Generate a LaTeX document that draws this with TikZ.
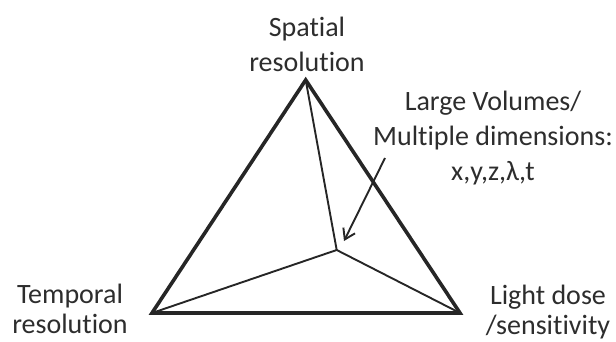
\documentclass[tikz,border=0pt]{standalone}
\usepackage{fontspec}
\setmainfont{Carlito}[Ligatures=NoCommon]
\usetikzlibrary{arrows.meta}
\definecolor{linegray}{RGB}{38,38,38}
\definecolor{textgray}{RGB}{45,45,45}

\begin{document}
\begin{tikzpicture}[x=1pt,y=1pt,
        lbl/.style={align=center,inner sep=0pt,text=textgray,
          font=\fontsize{28}{35}\selectfont},
        lowlbl/.style={lbl,font=\fontsize{28}{30}\selectfont},
        edge/.style={draw=linegray,line width=3.6pt,line join=miter},
        spoke/.style={draw=linegray,line width=1.9pt},
        pointer/.style={-{Straight Barb[length=10pt,width=13pt]},draw=linegray,line width=1.9pt}]
        \useasboundingbox (0,0) rectangle (616,341);
        % corners and centre of the triangle
        \coordinate (top) at (305.7,261);
        \coordinate (left) at (152,28);
        \coordinate (right) at (460,28);
        \coordinate (mid) at (336.7,91);
        \coordinate (tail) at (385,183);
        \coordinate (tip) at (344,100);
        % labels
        \node[lbl] (spatial) at (307,297) {Spatial\\resolution};
        \node[lbl] (volumes) at (493,202.5) {Large Volumes/\\Multiple dimensions:\\x,y,z,λ,t};
        \node[lowlbl] (temporal) at (70,32.5) {Temporal\\resolution};
        \node[lowlbl] (dose) at (548,29) {Light dose\\/sensitivity};
        % lines
        \draw[spoke] (mid) -- (top);
        \draw[spoke] (mid) -- (left);
        \draw[spoke] (mid) -- (right);
        \draw[edge] (top) -- (left) -- (right) -- cycle;
        \draw[pointer] (tail) -- (tip);
\end{tikzpicture}
\end{document}
